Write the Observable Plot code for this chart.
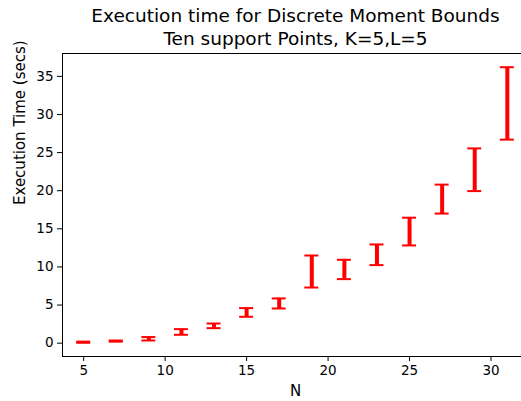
<!DOCTYPE html>
<html>
<head>
<meta charset="utf-8">
<script src="https://cdn.jsdelivr.net/npm/d3@7"></script>
<script src="https://cdn.jsdelivr.net/npm/@observablehq/plot@0.6"></script>
<style>
  html, body { margin: 0; padding: 0; background: #fff; }
  #chart svg { display: block; }
</style>
</head>
<body>
<div id="chart"></div>
<script>
const titleLines = ["Execution time for Discrete Moment Bounds", "Ten support Points, K=5,L=5"];
const xLabel = "N";
const yLabel = "Execution Time (secs)";
const nValues = [5, 7, 9, 11, 13, 15, 17, 19, 21, 23, 25, 27, 29, 31];
const lowerValues = [0.05, 0.2, 0.35, 1.1, 1.97, 3.46, 4.55, 7.3, 8.4, 10.24, 12.82, 17.0, 19.95, 26.7];
const upperValues = [0.2, 0.35, 0.8, 1.84, 2.58, 4.6, 5.87, 11.5, 10.94, 12.95, 16.46, 20.8, 25.55, 36.2];
const xTicks = [5, 10, 15, 20, 25, 30];
const yTicks = [0, 5, 10, 15, 20, 25, 30, 35];

const data = nValues.map((n, i) => ({n, lo: lowerValues[i], hi: upperValues[i]}));

const chart = Plot.plot({
  width: 521,
  height: 401,
  marginLeft: 62,
  marginRight: -7,
  marginTop: 53,
  marginBottom: 45,
  style: {fontFamily: "DejaVu Sans", color: "black", background: "white"},
  x: {domain: [3.7, 32.3]},
  y: {domain: [-1.75, 38.0]},
  marks: [
    Plot.axisX({ticks: xTicks, tickSize: 5, tickPadding: 4, fontSize: 13.5, label: null, stroke: "black"}),
    Plot.axisY({ticks: yTicks, tickSize: 5, tickPadding: 4, fontSize: 13.5, label: null, stroke: "black"}),
    Plot.frame({stroke: "black", strokeWidth: 1}),
    Plot.ruleX(data, {x: "n", y1: "lo", y2: "hi", stroke: "red", strokeWidth: 4}),
    Plot.ruleY(data, {y: "lo", x1: "n", x2: "n", insetLeft: -7, insetRight: -7, stroke: "red", strokeWidth: 2}),
    Plot.ruleY(data, {y: "hi", x1: "n", x2: "n", insetLeft: -7, insetRight: -7, stroke: "red", strokeWidth: 2}),
    Plot.text([titleLines.join("\n")], {frameAnchor: "top", lineAnchor: "bottom", lineHeight: 1.243, dy: -8.5, fontSize: 18.5, fill: "black"}),
    Plot.text([xLabel], {frameAnchor: "bottom", lineAnchor: "middle", dy: 35, fontSize: 15, fill: "black"}),
    Plot.text([yLabel], {frameAnchor: "left", rotate: -90, lineAnchor: "middle", dx: -42, fontSize: 15, fill: "black"})
  ]
});
document.getElementById("chart").appendChild(chart);
</script>
</body>
</html>
